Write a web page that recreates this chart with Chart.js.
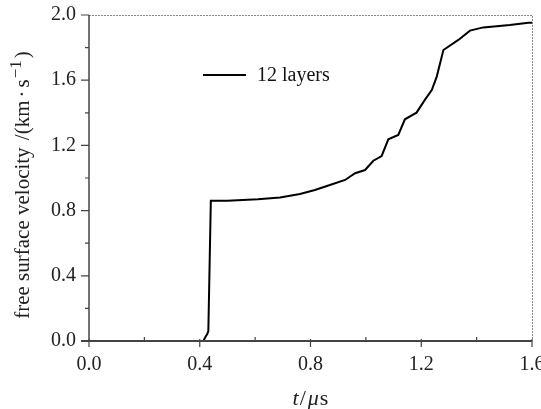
<!DOCTYPE html>
<html>
<head>
<meta charset="utf-8">
<script src="https://cdn.jsdelivr.net/npm/chart.js@4/dist/chart.umd.min.js"></script>
<style>
  html, body { margin: 0; padding: 0; background: #fff; }
  #wrap { width: 541px; height: 409px; }
</style>
</head>
<body>
<div id="wrap"><canvas id="velocityChart" width="541" height="409"></canvas></div>
<script>
// values
var seriesLabel = '12 layers';
var timeUs = [0, 0.413, 0.421, 0.427, 0.431, 0.44, 0.5, 0.61, 0.69, 0.762, 0.816, 0.87, 0.925, 0.961, 0.997, 1.027, 1.057, 1.081, 1.117, 1.141, 1.183, 1.213, 1.238, 1.256, 1.28, 1.334, 1.376, 1.424, 1.52, 1.587, 1.6];
var velocity = [0, 0, 0.026, 0.043, 0.06, 0.86, 0.86, 0.869, 0.881, 0.902, 0.926, 0.957, 0.988, 1.029, 1.049, 1.106, 1.135, 1.237, 1.264, 1.36, 1.401, 1.479, 1.54, 1.622, 1.785, 1.847, 1.904, 1.924, 1.939, 1.953, 1.953];
var xTicks = [0, 0.4, 0.8, 1.2, 1.6];
var yTicks = [0, 0.4, 0.8, 1.2, 1.6, 2.0];

var serif = '"Liberation Serif", "DejaVu Serif", serif';

// draw a row of [text, font, raise, gap] pieces starting at x along the baseline
function drawPieces(ctx, pieces, x, y) {
    pieces.forEach(function (p) {
        ctx.font = p[1];
        ctx.fillText(p[0], x, y - (p[2] || 0));
        x += ctx.measureText(p[0]).width + (p[3] || 0);
    });
}
function piecesWidth(ctx, pieces) {
    var w = 0;
    pieces.forEach(function (p) { ctx.font = p[1]; w += ctx.measureText(p[0]).width + (p[3] || 0); });
    return w;
}

document.addEventListener('DOMContentLoaded', function () {
    var points = timeUs.map(function (t, i) { return { x: t, y: velocity[i] }; });

    // axes frame, major/minor ticks, legend and axis titles
    var framePlugin = {
        id: 'frame',
        afterDraw: function (chart) {
            var ctx = chart.ctx;
            var a = chart.chartArea;
            var xs = chart.scales.x, ys = chart.scales.y;
            ctx.save();

            // thin top/right borders
            ctx.strokeStyle = '#888';
            ctx.lineWidth = 1;
            ctx.setLineDash([2, 1]);
            ctx.beginPath();
            ctx.moveTo(a.left, a.top + 0.5);
            ctx.lineTo(a.right + 0.5, a.top + 0.5);
            ctx.lineTo(a.right + 0.5, a.bottom);
            ctx.stroke();
            ctx.setLineDash([]);

            // left and bottom axes
            ctx.strokeStyle = '#444';
            ctx.lineWidth = 1.5;
            ctx.beginPath();
            ctx.moveTo(a.left, a.top);
            ctx.lineTo(a.left, a.bottom);
            ctx.stroke();
            ctx.lineWidth = 2;
            ctx.beginPath();
            ctx.moveTo(a.left - 8, a.bottom);
            ctx.lineTo(a.right, a.bottom);
            ctx.stroke();

            ctx.lineWidth = 1.2;
            ctx.beginPath();
            yTicks.forEach(function (v, i) {
                var p = ys.getPixelForValue(v);
                ctx.moveTo(a.left - 8, p);
                ctx.lineTo(a.left, p);
                if (i < yTicks.length - 1) {
                    var m = ys.getPixelForValue(v + 0.2);
                    ctx.moveTo(a.left - 4, m);
                    ctx.lineTo(a.left, m);
                }
            });
            xTicks.forEach(function (v, i) {
                var p = xs.getPixelForValue(v);
                ctx.moveTo(p, a.bottom - 2);
                ctx.lineTo(p, a.bottom + 6);
                if (i < xTicks.length - 1) {
                    var m = xs.getPixelForValue(v + 0.2);
                    ctx.moveTo(m, a.bottom - 4);
                    ctx.lineTo(m, a.bottom);
                }
            });
            ctx.stroke();

            // legend inside the plot
            var lx = a.left + 114, ly = a.top + 60;
            ctx.strokeStyle = '#000';
            ctx.lineWidth = 2;
            ctx.beginPath();
            ctx.moveTo(lx, ly);
            ctx.lineTo(lx + 43, ly);
            ctx.stroke();
            ctx.fillStyle = '#111';
            ctx.font = '20px ' + serif;
            ctx.textBaseline = 'middle';
            ctx.textAlign = 'left';
            ctx.fillText(chart.data.datasets[0].label, lx + 54, ly + 1);

            // x title: t/μs with italic t and μ
            ctx.fillStyle = '#222';
            ctx.textBaseline = 'alphabetic';
            var xt = [['t', 'italic 22px ' + serif, 0, 1], ['/', '22px ' + serif, 0, 2], ['μ', 'italic 22px ' + serif, 0, 1], ['s', '22px ' + serif]];
            var xw = piecesWidth(ctx, xt);
            drawPieces(ctx, xt, (a.left + a.right) / 2 - xw / 2, 405);

            // y title with superscript, rotated
            var f = '21px ' + serif;
            var yt = [['free surface velocity ', f, 0, 2], ['/(km', f, 0, 3], ['·', f, 0, 3], ['s', f, 0, 1],
                      ['−1', '17px ' + serif, 8, 2], [')', f]];
            var yw = piecesWidth(ctx, yt);
            ctx.translate(29, (a.top + a.bottom) / 2 + 7);
            ctx.rotate(-Math.PI / 2);
            drawPieces(ctx, yt, -yw / 2, 0);
            ctx.restore();
        }
    };

    var ctx = document.getElementById('velocityChart').getContext('2d');
    new Chart(ctx, {
        type: 'line',
        data: {
            datasets: [{
                label: seriesLabel,
                data: points,
                borderColor: '#000',
                borderWidth: 2,
                pointRadius: 0,
                tension: 0,
                fill: false
            }]
        },
        options: {
            responsive: false,
            animation: false,
            devicePixelRatio: 1,
            layout: { padding: { top: 15, right: 9, left: 0, bottom: 0 } },
            plugins: { legend: { display: false }, tooltip: { enabled: false } },
            scales: {
                x: {
                    type: 'linear',
                    min: 0, max: 1.6,
                    afterBuildTicks: function (s) { s.ticks = xTicks.map(function (v) { return { value: v }; }); },
                    afterFit: function (s) { s.height = 68; s.paddingLeft = 0; s.paddingRight = 0; },
                    grid: { display: false, drawTicks: false },
                    border: { display: false },
                    ticks: {
                        padding: 12,
                        color: '#222',
                        maxRotation: 0,
                        font: { family: serif, size: 20 },
                        callback: function (v) { return v.toFixed(1); }
                    }
                },
                y: {
                    min: 0, max: 2,
                    afterBuildTicks: function (s) { s.ticks = yTicks.map(function (v) { return { value: v }; }); },
                    afterFit: function (s) { s.width = 89; s.paddingTop = 0; s.paddingBottom = 0; },
                    grid: { display: false, drawTicks: false },
                    border: { display: false },
                    ticks: {
                        padding: 13,
                        color: '#222',
                        font: { family: serif, size: 20 },
                        callback: function (v) { return v.toFixed(1); }
                    }
                }
            }
        },
        plugins: [framePlugin]
    });
});
</script>
</body>
</html>
